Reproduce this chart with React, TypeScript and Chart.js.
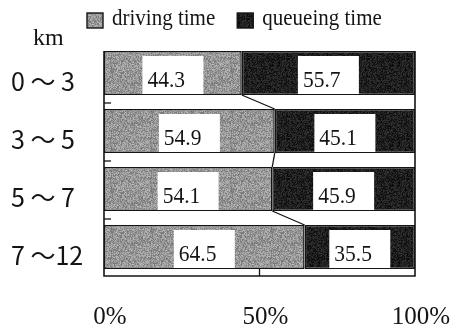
import { useEffect, useRef } from 'react';
import { Chart, registerables } from 'chart.js';

Chart.register(...registerables);

// distance bands (km) and the share of trip time per band (%)
const categories = ['0 ～ 3', '3 ～ 5', '5 ～ 7', '7 ～12'];
const drivingTime = [44.3, 54.9, 54.1, 64.5];
const queueingTime = [55.7, 45.1, 45.9, 35.5];
const seriesNames = ['driving time', 'queueing time'];
const xTickValues = [0, 50, 100];
const unitLabel = 'km';

const SERIF = '"Liberation Serif", "Times New Roman", serif';
const CJK = '"Noto Sans CJK JP", "Noto Sans", sans-serif';
const INK = '#141414';

// fixed grain texture so the fills look like halftone print
function grain(ctx: CanvasRenderingContext2D, base: number, spread: number, seed: number) {
  const size = 40;
  const c = document.createElement('canvas');
  c.width = size;
  c.height = size;
  const g = c.getContext('2d')!;
  const img = g.createImageData(size, size);
  for (let i = 0; i < size * size; i++) {
    let h = (Math.imul(i + 1, 2654435761) ^ Math.imul(seed, 40503)) >>> 0;
    h ^= h >>> 15;
    h = Math.imul(h, 2246822519) >>> 0;
    h ^= h >>> 13;
    const n = (h & 255) / 255 - 0.5;
    const v = Math.max(0, Math.min(255, Math.round(base + n * spread)));
    img.data[i * 4] = v;
    img.data[i * 4 + 1] = v;
    img.data[i * 4 + 2] = v;
    img.data[i * 4 + 3] = 255;
  }
  g.putImageData(img, 0, 0);
  return ctx.createPattern(c, 'repeat')!;
}

function stretchedText(
  ctx: CanvasRenderingContext2D,
  text: string,
  x: number,
  y: number,
  font: string,
  sy = 1.1,
) {
  ctx.save();
  ctx.font = font;
  ctx.fillStyle = INK;
  ctx.textAlign = 'left';
  ctx.textBaseline = 'alphabetic';
  ctx.translate(x, y);
  ctx.scale(1, sy);
  ctx.fillText(text, 0, 0);
  ctx.restore();
}

const overlay = {
  id: 'overlay',
  afterDatasetsDraw(chart: any) {
    const { ctx, chartArea: a, scales } = chart;
    const xs = scales.x;
    const rows = [0, 1].map((d) =>
      chart.getDatasetMeta(d).data.map((el: any) => el.getProps(['x', 'y', 'base', 'height'], true)),
    );
    const top = (r: any) => r.y - r.height / 2;
    const bottom = (r: any) => r.y + r.height / 2;

    ctx.save();
    ctx.strokeStyle = INK;
    ctx.lineWidth = 1.6;

    // plot frame
    ctx.beginPath();
    ctx.moveTo(a.left, top(rows[0][0]));
    ctx.lineTo(a.left, a.bottom);
    ctx.lineTo(a.right, a.bottom);
    ctx.lineTo(a.right, top(rows[0][0]));
    ctx.stroke();

    // series lines joining the driving/queueing boundaries
    ctx.lineWidth = 1.3;
    for (let i = 0; i < rows[0].length - 1; i++) {
      ctx.beginPath();
      ctx.moveTo(rows[0][i].x, bottom(rows[0][i]));
      ctx.lineTo(rows[0][i + 1].x, top(rows[0][i + 1]));
      ctx.stroke();
    }

    // inner tick marks
    for (let i = 0; i < rows[0].length - 1; i++) {
      const ty = (bottom(rows[0][i]) + top(rows[0][i + 1])) / 2 + 1;
      ctx.beginPath();
      ctx.moveTo(a.left, ty);
      ctx.lineTo(a.left + 7, ty);
      ctx.stroke();
    }
    const mid = xs.getPixelForValue(xTickValues[1]);
    ctx.beginPath();
    ctx.moveTo(mid, a.bottom);
    ctx.lineTo(mid, a.bottom - 8);
    ctx.stroke();

    // value boxes
    rows.forEach((row: any[], d: number) => {
      row.forEach((r: any, i: number) => {
        const value = chart.data.datasets[d].data[i];
        const cx = (r.x + r.base) / 2;
        const bx = cx - 30.5;
        const by = top(r) + 5;
        const bh = bottom(r) - 1 - by;
        ctx.fillStyle = '#ffffff';
        ctx.fillRect(bx, by, 61, bh);
        stretchedText(ctx, value.toFixed(1), bx + 5, bottom(r) - 8, `21.5px ${SERIF}`);
      });
    });

    // legend
    const fills = chart.data.datasets.map((ds: any) => ds.backgroundColor);
    let lx = 87;
    const font = `21px ${SERIF}`;
    chart.data.datasets.forEach((ds: any, d: number) => {
      ctx.fillStyle = fills[d];
      ctx.fillRect(lx, 13, 16, 15);
      ctx.lineWidth = 1.4;
      ctx.strokeStyle = INK;
      ctx.strokeRect(lx, 13, 16, 15);
      stretchedText(ctx, ds.label, lx + 25, 25, font);
      ctx.font = font;
      lx += 25 + ctx.measureText(ds.label).width + 22;
    });

    // unit caption above the category labels
    stretchedText(ctx, unitLabel, 33, 45, `24px ${SERIF}`, 1.0);
    ctx.restore();
  },
};

export default function App() {
  const ref = useRef<HTMLCanvasElement | null>(null);

  useEffect(() => {
    document.body.style.margin = '0';
    const canvas = ref.current!;
    const ctx = canvas.getContext('2d')!;
    const lightFill = grain(ctx, 150, 70, 3);
    const darkFill = grain(ctx, 30, 46, 11);

    const chart = new Chart(canvas, {
      type: 'bar',
      data: {
        labels: categories,
        datasets: [
          {
            label: seriesNames[0],
            data: drivingTime,
            backgroundColor: lightFill,
            borderColor: INK,
            borderWidth: 1.5,
            borderSkipped: false,
          },
          {
            label: seriesNames[1],
            data: queueingTime,
            backgroundColor: darkFill,
            borderColor: INK,
            borderWidth: 1.5,
            borderSkipped: false,
          },
        ],
      },
      options: {
        indexAxis: 'y',
        animation: false,
        responsive: false,
        events: [],
        datasets: { bar: { barPercentage: 44 / 58, categoryPercentage: 1 } },
        layout: { padding: { top: 44, left: 11, right: 37, bottom: 0 } },
        plugins: { legend: { display: false }, tooltip: { enabled: false } },
        scales: {
          x: {
            stacked: true,
            min: 0,
            max: 100,
            grid: { display: false, drawTicks: false },
            border: { display: false },
            afterBuildTicks: (scale: any) => {
              scale.ticks = xTickValues.map((value) => ({ value }));
            },
            afterFit: (scale: any) => {
              scale.height = 54;
              scale.paddingLeft = 0;
              scale.paddingRight = 0;
            },
            ticks: {
              callback: (v: any) => `${v}%`,
              font: { family: SERIF, size: 25 },
              color: INK,
              padding: 26,
              labelOffset: 6,
              maxRotation: 0,
            },
          },
          y: {
            stacked: true,
            grid: { display: false, drawTicks: false },
            border: { display: false },
            afterFit: (scale: any) => {
              scale.width = 93;
              scale.paddingTop = 0;
              scale.paddingBottom = 0;
            },
            ticks: {
              font: { family: CJK, size: 25 },
              color: INK,
              crossAlign: 'far',
              labelOffset: 8,
            },
          },
        },
      },
      plugins: [overlay],
    });
    return () => chart.destroy();
  }, []);

  return <canvas ref={ref} width={452} height={330} style={{ display: 'block' }} />;
}
